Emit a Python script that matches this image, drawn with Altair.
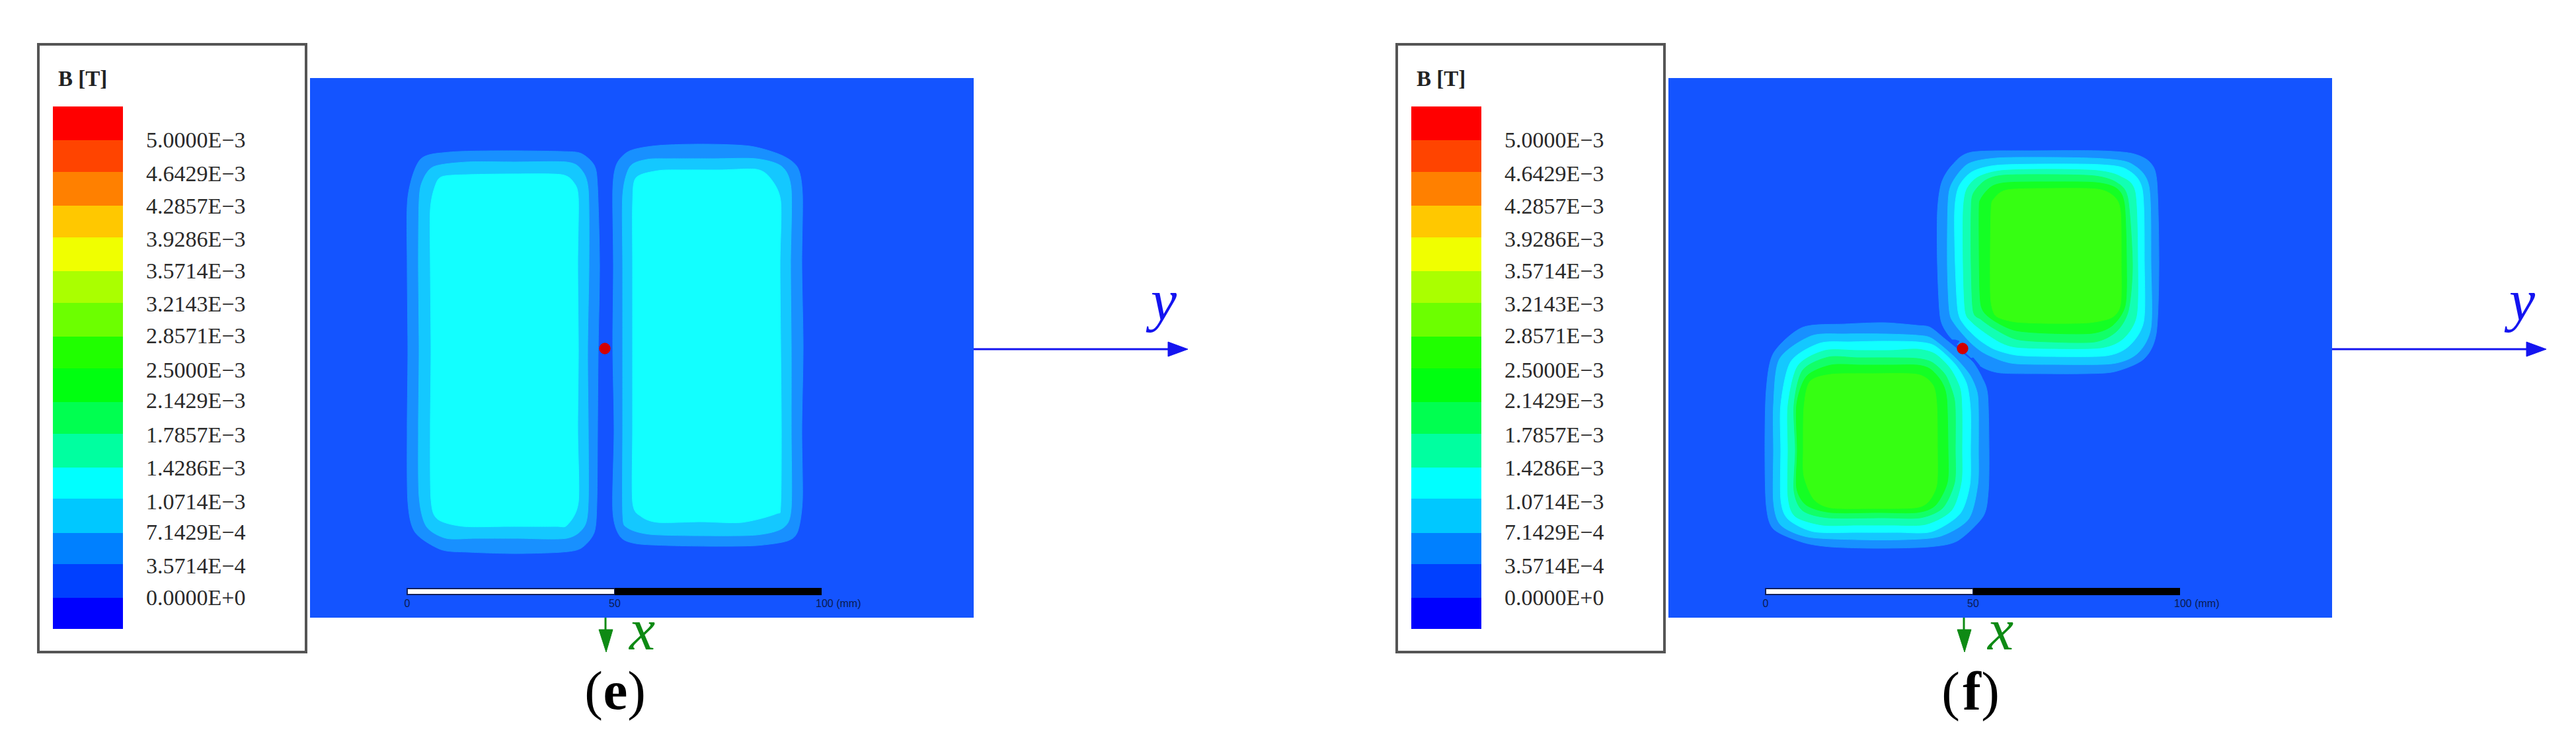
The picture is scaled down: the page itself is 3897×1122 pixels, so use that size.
import altair as alt
import pandas as pd

# ---- panel geometry, in reference pixels ----
PANEL_OFFSET = [0, 2055]
PANEL_LETTER = ["e", "f"]
LETTER_X = [931, 2983]
PAREN_L_X = [898, 2951]
PAREN_R_X = [963, 3011]
LETTER_BASE = [1072, 1073]

FIELD_COLOR = "#1454ff"
BOX = (58, 463, 67, 986)
FIELD = (469, 1473, 118, 934)

# legend
LEGEND_TITLE = "B [T]"
LEGEND_LABELS = ["5.0000E−3", "4.6429E−3", "4.2857E−3", "3.9286E−3", "3.5714E−3",
                 "3.2143E−3", "2.8571E−3", "2.5000E−3", "2.1429E−3", "1.7857E−3",
                 "1.4286E−3", "1.0714E−3", "7.1429E−4", "3.5714E−4", "0.0000E+0"]
LABEL_BASE = [223, 274, 323, 373, 421, 471, 519, 571, 617, 669, 719, 770, 816, 867, 915]
BAR_EDGES = [161, 212, 260, 311, 359, 410, 458, 509, 557, 608, 656, 707, 754, 806, 853, 904, 951]
BAR_COLORS = ["#ff0000", "#ff4400", "#ff8000", "#ffc800", "#f0ff00", "#aaff00", "#6cff00", "#20ff00",
              "#00ff10", "#00ff50", "#00ffa0", "#00ffff", "#00c8ff", "#0080ff", "#0040ff", "#0000ff"]

# contour colours
C1, C2, C3, C4, C5, C6, C7 = "#1890ff", "#14c8ff", "#12ffff", "#12ffb4", "#12ff68", "#14ff24", "#36ff12"

# ---- panel (e) contours ----
E_L1 = [(680,230),(760,228),(849,229),(879,232),(899,250),(904,282),(907,400),(905,530),(904,650),(903,759),(899,805),(879,829),(849,835),(780,837),(710,835),(667,831),(628,805),(617,759),(616,650),(617,530),(616,400),(617,298),(636,241)]
E_L2 = [(706,245),(780,245),(857,245),(879,256),(890,287),(891,400),(889,530),(890,650),(890,759),(884,796),(857,814),(780,814),(720,814),(675,814),(645,796),(634,751),(633,650),(634,530),(633,400),(634,304),(639,274),(656,252)]
E_L3 = [(710,264),(780,263),(849,264),(868,276),(875,300),(874,400),(875,530),(874,650),(875,759),(858,794),(840,796),(770,796),(701,796),(662,785),(652,755),(651,650),(652,530),(651,400),(651,317),(658,282),(669,267)]
E_R1 = [(996,220),(1065,218),(1135,221),(1183,235),(1207,254),(1214,295),(1213,400),(1215,525),(1213,650),(1214,755),(1207,803),(1191,818),(1144,825),(1080,826),(1014,825),(962,822),(938,811),(927,772),(929,650),(927,525),(928,400),(927,287),(933,248),(953,228)]
E_R2 = [(1014,240),(1080,240),(1144,240),(1183,252),(1197,287),(1196,400),(1197,525),(1197,650),(1197,768),(1185,798),(1144,809),(1060,810),(983,808),(949,798),(942,777),(942,650),(942,525),(942,400),(942,295),(953,252),(979,241)]
E_R3 = [(1035,257),(1090,257),(1144,256),(1165,269),(1181,304),(1180,400),(1181,525),(1182,650),(1181,764),(1174,777),(1122,790),(1060,789),(996,790),(970,781),(957,759),(957,650),(957,525),(957,400),(957,308),(962,269),(996,258)]

# ---- panel (f) contours: upper-right square ----
U1 = [(2983,230),(3080,228),(3175,228),(3225,232),(3252,245),(3263,275),(3266,400),(3262,504),(3243,543),(3199,562),(3152,565),(3090,565),(3027,564),(3000,556),(2983,542),(2960,520),(2945,503),(2935,478),(2931,400),(2931,320),(2937,277),(2953,250)]
U2 = [(2977,248),(3020,239),(3100,238),(3182,240),(3225,248),(3251,282),(3254,400),(3254,495),(3234,534),(3195,550),(3100,551),(3050,550),(3027,545),(3000,533),(2980,517),(2957,490),(2949,470),(2946,400),(2947,307),(2953,277)]
U3 = [(2983,260),(3020,250),(3100,248),(3178,249),(3217,256),(3241,287),(3244,400),(3243,486),(3221,523),(3186,538),(3100,539),(3050,537),(3017,528),(2993,513),(2972,492),(2962,470),(2958,400),(2957,320),(2963,283)]
U4 = [(2992,268),(3027,258),(3100,256),(3173,258),(3208,267),(3230,291),(3234,400),(3232,478),(3212,512),(3178,526),(3100,527),(3050,525),(3027,518),(3003,503),(2983,487),(2973,470),(2970,400),(2970,320),(2975,287)]
U5 = [(3003,273),(3030,265),(3100,264),(3169,266),(3202,276),(3219,300),(3226,400),(3220,469),(3202,501),(3169,517),(3100,517),(3050,513),(3017,497),(2997,483),(2985,470),(2982,400),(2982,320),(2985,293)]
U6 = [(3013,282),(3037,276),(3100,275),(3170,276),(3202,285),(3214,310),(3217,400),(3215,462),(3196,492),(3165,504),(3100,504),(3050,500),(3020,487),(3000,470),(2995,440),(2994,320),(2997,300)]
U7 = [(3037,287),(3100,285),(3173,286),(3199,298),(3208,321),(3209,400),(3208,460),(3195,480),(3160,488),(3100,489),(3050,487),(3023,480),(3015,470),(3011,440),(3012,320),(3017,300)]

# ---- panel (f) contours: lower-left square ----
D1 = [(2727,495),(2792,490),(2850,488),(2900,492),(2920,495),(2943,513),(2970,535),(2985,548),(2998,570),(3007,597),(3009,680),(3008,742),(3000,781),(2961,818),(2917,827),(2840,829),(2770,827),(2727,820),(2683,800),(2672,764),(2670,680),(2672,590),(2683,534)]
D2 = [(2740,508),(2792,505),(2850,505),(2900,507),(2923,512),(2957,540),(2980,567),(2991,593),(2993,620),(2993,680),(2992,733),(2978,785),(2935,811),(2880,816),(2810,816),(2735,812),(2694,794),(2683,759),(2683,680),(2683,612),(2692,543)]
D3 = [(2753,519),(2800,517),(2850,516),(2900,517),(2927,523),(2957,550),(2975,580),(2981,620),(2981,680),(2980,733),(2965,777),(2922,804),(2870,805),(2810,805),(2744,804),(2705,785),(2694,755),(2694,680),(2694,612),(2709,547)]
D4 = [(2761,530),(2810,530),(2860,530),(2900,528),(2927,535),(2950,557),(2965,587),(2968,620),(2968,680),(2967,729),(2952,772),(2913,793),(2860,794),(2810,794),(2757,794),(2716,781),(2705,751),(2705,680),(2705,612),(2720,553)]
D5 = [(2766,540),(2810,541),(2860,541),(2900,542),(2923,548),(2943,567),(2955,597),(2958,620),(2958,680),(2957,729),(2939,768),(2905,783),(2850,783),(2766,783),(2727,772),(2714,742),(2716,680),(2714,612),(2727,560)]
D6 = [(2770,552),(2815,552),(2860,552),(2900,552),(2920,558),(2937,577),(2945,603),(2947,680),(2946,729),(2928,764),(2900,775),(2840,775),(2770,775),(2733,764),(2718,738),(2719,680),(2718,612),(2733,569)]
D7 = [(2770,566),(2830,565),(2900,566),(2924,582),(2930,612),(2931,680),(2930,733),(2917,759),(2896,768),(2830,769),(2770,768),(2744,755),(2729,720),(2728,680),(2729,616),(2738,577)]

NOTCH_A = [(2952,514),(2958,514),(2964,516),(2961,520),(2953,518)]
NOTCH_B = [(2982,542),(2985,541),(2995,553),(2988,550)]

RED_DOTS_X = [915, 2969]
RED_DOTS_Y = [527, 527]

# arrows (panel (e) coordinates)
GREEN = "#0e8a14"
BLUE = "#1414f0"
GREEN_SHAFT = (916, 934, 956)
GREEN_HEAD = [(906,952),(927,952),(917,986)]
BLUE_SHAFT = (1473, 1770, 528)
BLUE_HEAD = [(1767,517),(1797,528),(1767,539)]
X_GLYPH = (952, 982)
Y_GLYPH = (1741, 484)

# scale bar (panel (e) coordinates)
SCALE_WHITE = (616, 930, 890, 899)
SCALE_BLACK = (930, 1243, 889, 900)
SCALE_TEXT = ["0", "50"]
SCALE_TEXT_X = [616, 930]
SCALE_LAST = "100 (mm)"
SCALE_LAST_X = 1234
SCALE_BASE = 918

# ---- scales: one plain pixel space shared by every layer ----
XS = alt.Scale(domain=[8, 3889])
YS = alt.Scale(domain=[1114, 8])
X = alt.X("px:Q", scale=XS, axis=None)
Y = alt.Y("py:Q", scale=YS, axis=None)
X2 = alt.X2("px2:Q")
Y2 = alt.Y2("py2:Q")


def poly(points, color, interp="cardinal-closed", dx=0):
    df = pd.DataFrame({"px": [p[0] + dx for p in points],
                       "py": [p[1] for p in points],
                       "i": list(range(len(points)))})
    kw = {"tension": 0.2} if interp.startswith("cardinal") else {}
    return alt.Chart(df).mark_line(fill=color, stroke=color, strokeWidth=1,
                                   interpolate=interp, **kw).encode(x=X, y=Y, order=alt.Order("i:Q"))


def rects(x0, x1, y0, y1, color, **kw):
    df = pd.DataFrame({"px": x0, "px2": x1, "py": y0, "py2": y1, "c": color})
    return alt.Chart(df).mark_rect(**kw).encode(x=X, x2=X2, y=Y, y2=Y2,
                                                fill=alt.Fill("c:N", scale=None))


def texts(xs, ys, labels, color, size, font, align="left", **kw):
    df = pd.DataFrame({"px": xs, "py": ys, "t": labels})
    return alt.Chart(df).mark_text(color=color, fontSize=size, font=font, align=align,
                                   baseline="alphabetic", **kw).encode(x=X, y=Y, text="t:N")


SERIF = "Liberation Serif"
SANS = "Liberation Sans"
layers = []

for k, dx in enumerate(PANEL_OFFSET):
    # legend box
    df = pd.DataFrame({"px": [BOX[0] + dx], "px2": [BOX[1] + dx], "py": [BOX[2]], "py2": [BOX[3]]})
    layers.append(alt.Chart(df).mark_rect(fill="white", stroke="#555555", strokeWidth=4)
                  .encode(x=X, x2=X2, y=Y, y2=Y2))
    # colour bar
    layers.append(rects([80 + dx] * 16, [186 + dx] * 16, BAR_EDGES[:-1], BAR_EDGES[1:], BAR_COLORS))
    layers.append(texts([221 + dx] * 15, LABEL_BASE, LEGEND_LABELS, "#2a2a2a", 34, SERIF))
    layers.append(texts([88 + dx], [130], [LEGEND_TITLE], "#222222", 33, SERIF, fontWeight="bold"))
    # field
    layers.append(rects([FIELD[0] + dx], [FIELD[1] + dx], [FIELD[2]], [FIELD[3]], [FIELD_COLOR]))

for pts, c in [(E_L1, C1), (E_R1, C1), (E_L2, C2), (E_R2, C2), (E_L3, C3), (E_R3, C3),
               (U1, C1), (D1, C1)]:
    layers.append(poly(pts, c))
layers.append(poly(NOTCH_A, FIELD_COLOR, "linear-closed"))
layers.append(poly(NOTCH_B, FIELD_COLOR, "linear-closed"))
for pts, c in [(U2, C2), (D2, C2), (U3, C3), (D3, C3), (U4, C4), (D4, C4),
               (U5, C5), (D5, C5), (U6, C6), (D6, C6), (U7, C7), (D7, C7)]:
    layers.append(poly(pts, c))

layers.append(alt.Chart(pd.DataFrame({"px": RED_DOTS_X, "py": RED_DOTS_Y}))
              .mark_circle(size=300, color="#d40000", opacity=1).encode(x=X, y=Y))

for k, dx in enumerate(PANEL_OFFSET):
    # scale bar
    layers.append(alt.Chart(pd.DataFrame({"px": [SCALE_WHITE[0] + dx], "px2": [SCALE_WHITE[1] + dx],
                                          "py": [SCALE_WHITE[2]], "py2": [SCALE_WHITE[3]]}))
                  .mark_rect(fill="white", stroke="#12205a", strokeWidth=2).encode(x=X, x2=X2, y=Y, y2=Y2))
    layers.append(rects([SCALE_BLACK[0] + dx], [SCALE_BLACK[1] + dx], [SCALE_BLACK[2]], [SCALE_BLACK[3]], ["#000000"]))
    layers.append(texts([v + dx for v in SCALE_TEXT_X], [SCALE_BASE] * 2, SCALE_TEXT, "#0a1a50", 16, SANS, align="center"))
    layers.append(texts([SCALE_LAST_X + dx], [SCALE_BASE], [SCALE_LAST], "#0a1a50", 16, SANS))
    # green x arrow
    layers.append(alt.Chart(pd.DataFrame({"px": [GREEN_SHAFT[0] + dx], "py": [GREEN_SHAFT[1]], "py2": [GREEN_SHAFT[2]]}))
                  .mark_rule(color=GREEN, strokeWidth=3).encode(x=X, y=Y, y2=Y2))
    layers.append(poly(GREEN_HEAD, GREEN, "linear-closed", dx))
    layers.append(texts([X_GLYPH[0] + dx], [X_GLYPH[1]], ["x"], GREEN, 88, SERIF, fontStyle="italic"))
    # blue y arrow
    layers.append(alt.Chart(pd.DataFrame({"px": [BLUE_SHAFT[0] + dx], "px2": [BLUE_SHAFT[1] + dx], "py": [BLUE_SHAFT[2]]}))
                  .mark_rule(color=BLUE, strokeWidth=3).encode(x=X, x2=X2, y=Y))
    layers.append(poly(BLUE_HEAD, BLUE, "linear-closed", dx))
    layers.append(texts([Y_GLYPH[0] + dx], [Y_GLYPH[1]], ["y"], BLUE, 88, SERIF, fontStyle="italic"))
    # caption
    layers.append(texts([PAREN_L_X[k], PAREN_R_X[k]], [LETTER_BASE[k]] * 2, ["(", ")"], "#000000", 83, SERIF, align="center"))
    layers.append(texts([LETTER_X[k]], [LETTER_BASE[k]], [PANEL_LETTER[k]], "#000000", 83, SERIF, align="center", fontWeight="bold"))

chart = (alt.layer(*layers)
         .properties(width=3881, height=1106, padding=0,
                     autosize=alt.AutoSizeParams(type="none"), background="white")
         .configure_view(stroke=None))

chart.save("out.html", embed_options={"renderer": "svg", "actions": False})
